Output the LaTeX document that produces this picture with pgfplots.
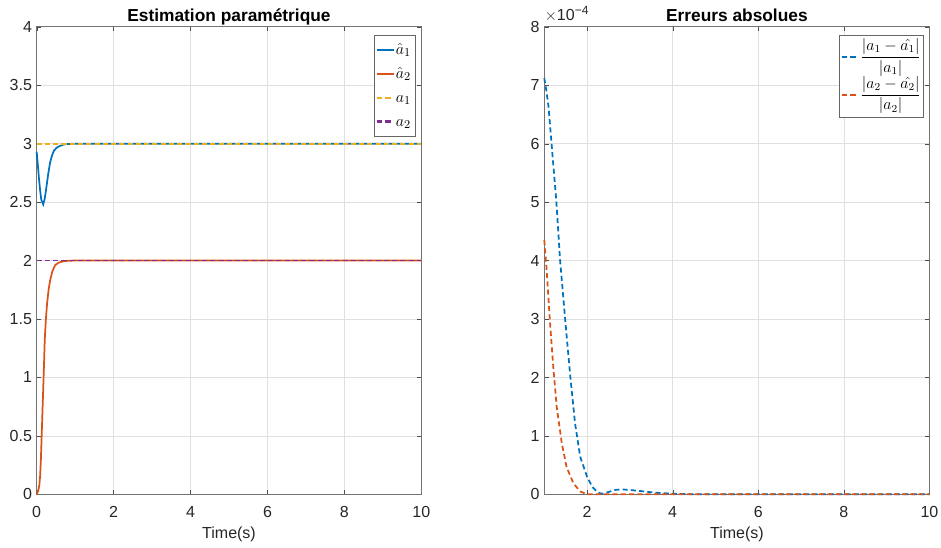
\documentclass[border=0pt]{standalone}
\usepackage{fontspec}
\setmainfont{Liberation Sans}
\usepackage{amsmath}
\usepackage{pgfplots}
\pgfplotsset{compat=1.18}
\definecolor{mblue}{rgb}{0,0.447,0.741}
\definecolor{morange}{rgb}{0.85,0.325,0.098}
\definecolor{myellow}{rgb}{0.929,0.694,0.125}
\definecolor{mpurple}{rgb}{0.494,0.184,0.556}
% legend samples
\newcommand{\solidsamp}[1]{\textcolor{#1}{\rule[0.2em]{13pt}{1.6pt}}}
\newcommand{\dashsamp}[1]{\textcolor{#1}{\rule[0.2em]{4pt}{1.6pt}\hspace{2.6pt}\rule[0.2em]{4pt}{1.6pt}}\hspace{2.4pt}}
\begin{document}
\begin{tikzpicture}
\path[use as bounding box] (0,0) rectangle (705.75pt,410.25pt);
\pgfplotsset{
  mat/.style={
    scale only axis, width=288.5pt, height=350.7pt,
    anchor=south west,
    axis line style={black!55},
    tick style={black!70},
    tick align=inside, tick pos=both,
    major tick length=3.5pt,
    grid=major, grid style={black!12, line width=0.4pt},
    tick label style={font=\fontsize{12}{14}\selectfont, color=black!85},
    xticklabel style={anchor=base, yshift=-17.25pt},
    /pgf/number format/assume math mode=true,
    xlabel={Time(s)},
    xlabel style={font=\fontsize{12}{14}\selectfont, color=black!85,
      at={(axis description cs:0.5,0)}, anchor=base, yshift=-32.8pt},
    clip=false,
  },
  mdash/.style={dash pattern=on 3.8pt off 2.4pt},
}
% left: parameter estimation
\begin{axis}[mat, at={(27.5pt,39.5pt)},
  xmin=0, xmax=10, ymin=0, ymax=4,
  xtick={0,2,4,6,8,10}, ytick={0,0.5,1,1.5,2,2.5,3,3.5,4},
]
% a1 hat
\addplot[mblue, line width=1.3pt] coordinates {
 (0,2.93) (0.03,2.82) (0.06,2.7) (0.09,2.6) (0.12,2.52) (0.17,2.48)
 (0.21,2.53) (0.25,2.62) (0.3,2.74) (0.35,2.84) (0.4,2.9) (0.45,2.94)
 (0.52,2.965) (0.6,2.98) (0.7,2.992) (0.8,2.997) (1,3) (10,3)};
% a2 hat
\addplot[morange, line width=1.3pt] coordinates {
 (0,0) (0.04,0.03) (0.07,0.08) (0.09,0.16) (0.11,0.3) (0.13,0.5)
 (0.15,0.7) (0.17,0.9) (0.19,1.1) (0.21,1.32) (0.24,1.5) (0.27,1.63)
 (0.31,1.75) (0.35,1.83) (0.41,1.91) (0.48,1.96) (0.56,1.98)
 (0.65,1.99) (0.8,1.998) (1,2) (10,2)};
% true values
\addplot[myellow, line width=1.3pt, mdash] coordinates {(0,3) (10,3)};
\addplot[mpurple, line width=1.3pt, mdash] coordinates {(0,2) (10,2)};
\node[font=\bfseries\fontsize{13}{15}\selectfont, anchor=base]
  at (rel axis cs:0.5,1) [yshift=4.1pt] {Estimation paramétrique};
\node[draw=black!60, fill=white, anchor=north east, inner xsep=1.5pt,
  inner ysep=2pt, font=\fontsize{13}{14}\selectfont]
  at (rel axis cs:0.984,0.983) {%
  \renewcommand{\arraystretch}{1.28}%
  \begin{tabular}{@{}l@{\hspace{1.5pt}}l@{\hspace{1.5pt}}}
  \solidsamp{mblue} & $\hat{a}_1$\\
  \solidsamp{morange} & $\hat{a}_2$\\
  \dashsamp{myellow} & $a_1$\\
  \dashsamp{mpurple} & $a_2$
  \end{tabular}};
\end{axis}
% right: relative errors (in units of 1e-4)
\begin{axis}[mat, at={(408.2pt,39.5pt)}, width=288.9pt,
  xmin=1, xmax=10, ymin=0, ymax=8,
  xtick={2,4,6,8,10}, ytick={0,1,2,3,4,5,6,7,8},
]
\addplot[mblue, line width=1.3pt, mdash] coordinates {
 (1,7.12) (1.05,6.9) (1.1,6.63) (1.17,6.0) (1.28,5.03) (1.37,4.0)
 (1.49,2.98) (1.61,2.0) (1.72,1.21) (1.84,0.64) (2.0,0.3) (2.12,0.13)
 (2.25,0.03) (2.35,0.01) (2.5,0.04) (2.65,0.075) (2.8,0.085) (3.0,0.075)
 (3.2,0.06) (3.57,0.03) (4,0.01) (4.5,0.002) (5,0) (10,0)};
\addplot[morange, line width=1.3pt, mdash] coordinates {
 (1,4.35) (1.05,3.9) (1.13,2.98) (1.21,2.18) (1.29,1.5) (1.41,0.87)
 (1.52,0.47) (1.68,0.19) (1.84,0.05) (2.0,0) (10,0)};
\node[font=\bfseries\fontsize{13}{15}\selectfont, anchor=base]
  at (rel axis cs:0.5,1) [yshift=4.1pt] {Erreurs absolues};
\node[font=\fontsize{12}{14}\selectfont, color=black!85, anchor=base west,
  inner sep=0pt] at (rel axis cs:0,1) [yshift=4.5pt]
  {$\times$10\raisebox{0.75ex}{\fontsize{9}{10}\selectfont −4}};
\node[draw=black!60, fill=white, anchor=north east, inner xsep=1.5pt,
  inner ysep=2.5pt, font=\fontsize{12}{13}\selectfont]
  at (rel axis cs:0.984,0.983) {%
  \begin{tabular}{@{}l@{\hspace{1pt}}l@{}}
  \dashsamp{mblue} & $\dfrac{|a_1-\hat{a_1}|}{|a_1|}$\\[0.5pt]
  \dashsamp{morange} & $\dfrac{|a_2-\hat{a_2}|}{|a_2|}$
  \end{tabular}};
\end{axis}
\end{tikzpicture}
\end{document}
